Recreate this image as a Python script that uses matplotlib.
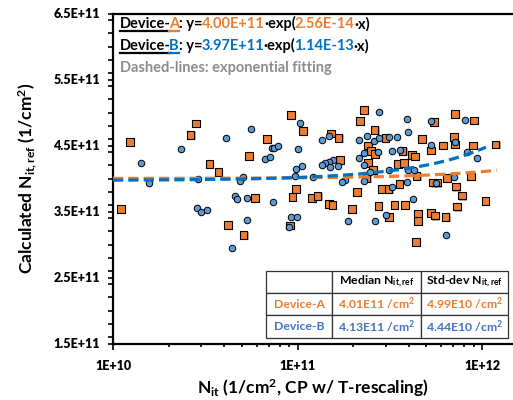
import numpy as np
import matplotlib
matplotlib.use("Agg")
import matplotlib.pyplot as plt
import matplotlib.transforms as mtransforms
import matplotlib.patheffects as pe
from matplotlib.ticker import MultipleLocator, NullFormatter

plt.rcParams['font.family'] = ['Lato', 'DejaVu Sans']
plt.rcParams['font.weight'] = 'bold'
plt.rcParams['mathtext.fontset'] = 'custom'
plt.rcParams['mathtext.rm'] = 'Lato:bold'
plt.rcParams['mathtext.it'] = 'Lato:bold'
plt.rcParams['mathtext.bf'] = 'Lato:bold'
plt.rcParams['mathtext.default'] = 'bf'

ORANGE = '#ED7D31'
BLUE_LINE = '#0070C0'
BLUE_FILL = '#5B9BD5'
BLUE_TAB = '#4472C4'

# Device-A (orange squares): log10(Nit), Nit_ref in 1E+11
a_logx = [10.042, 10.092, 10.451, 10.421, 10.522, 10.571, 10.622, 10.708, 10.737, 10.771,
          10.836, 10.965, 11.030, 10.993, 10.972, 10.958,
          11.182, 11.223, 11.360, 11.339, 11.418, 11.382, 11.400, 11.420, 11.476, 11.230,
          11.382, 11.409, 11.375, 11.570, 11.545, 11.576, 11.619, 11.638, 11.646, 11.675,
          11.740, 11.724, 11.790, 11.852, 11.848, 11.852, 11.958, 11.951, 12.074, 11.736,
          11.758, 11.810, 11.859, 11.890, 11.866, 11.939, 12.018, 11.458, 11.494, 11.552,
          11.324, 11.080, 11.109, 11.172, 11.189, 11.294, 11.438, 11.525, 11.583, 11.496,
          11.653, 11.653, 11.724, 11.745, 11.803, 11.643]
a_y = [3.54, 4.556, 4.834, 4.657, 4.219, 4.098, 3.298, 3.142, 4.34, 3.70,
       4.597, 4.959, 4.718, 3.841, 3.72, 3.287,
       4.683, 4.616, 5.035, 4.873, 4.737, 4.50, 4.42, 4.375, 4.616, 4.28,
       4.234, 4.128, 4.012, 4.42, 4.219, 4.234, 4.36, 4.335, 4.04, 4.597,
       4.858, 4.426, 4.50, 4.974, 4.63, 4.516, 4.879, 4.50, 4.516, 3.937,
       3.937, 4.012, 3.876, 3.74, 3.574, 4.03, 3.655, 3.837, 3.837, 3.917,
       3.796, 3.70, 3.736, 3.615, 3.60, 3.54, 3.58, 3.60, 3.60, 3.418,
       3.459, 3.358, 3.474, 3.438, 3.418, 3.04]

# Device-B (blue circles)
b_logx = [10.153, 10.197, 10.367, 10.459, 10.454, 10.475, 10.511, 10.611, 10.647, 10.660,
          10.670, 10.690, 10.705, 10.725, 10.725, 10.748, 10.825, 10.849, 10.862, 10.871,
          10.893, 10.869, 10.966, 10.997, 10.956, 10.985, 10.992, 11.024, 11.004, 11.012,
          11.442, 11.592, 11.722, 11.906, 11.599, 11.133, 11.171, 11.333, 11.377, 11.413,
          11.442, 11.498, 11.541, 11.360, 11.435, 11.512, 11.556, 11.722, 11.855, 11.919,
          11.971, 11.333, 11.191, 11.169, 11.151, 11.131, 11.176, 11.220, 11.362, 11.496,
          11.597, 11.633, 11.393, 11.082, 11.257, 11.241, 11.362, 11.512, 11.592, 11.751,
          11.848, 11.628, 11.478, 11.272, 11.420, 11.806]
b_y = [4.23, 3.927, 4.45, 3.988, 3.554, 3.49, 3.53, 4.607, 2.95, 3.73,
       3.69, 3.967, 4.027, 3.71, 3.369, 4.748, 4.29, 4.33, 4.46, 4.465,
       4.486, 3.65, 3.41, 3.41, 3.272, 4.04, 4.148, 4.19, 4.446, 4.834,
       5.005, 4.904, 4.864, 4.884, 4.702, 4.586, 4.647, 4.586, 4.647, 4.566,
       4.607, 4.627, 4.627, 4.39, 4.405, 4.41, 4.426, 4.506, 4.547, 4.405,
       4.31, 4.31, 4.284, 4.254, 4.229, 4.204, 4.169, 4.184, 4.204, 4.133,
       4.133, 4.133, 4.093, 4.023, 3.982, 3.952, 3.967, 3.872, 3.947, 3.927,
       4.023, 3.69, 3.449, 3.353, 3.353, 3.151]

# exponential fits y = a*exp(b*x)
fit_a = (4.00e11, 2.56e-14)
fit_b = (3.97e11, 1.14e-13)

yticks = [1.5e11, 2.5e11, 3.5e11, 4.5e11, 5.5e11, 6.5e11]
ytick_labels = ['1.5E+11', '2.5E+11', '3.5E+11', '4.5E+11', '5.5E+11', '6.5E+11']
xticks = [1e10, 1e11, 1e12]
xtick_labels = ['1E+10', '1E+11', '1E+12']

table_rows = ['Device-A', 'Device-B']
table_median = ['4.01E11 /cm$^2$', '4.13E11 /cm$^2$']
table_std = ['4.99E10 /cm$^2$', '4.44E10 /cm$^2$']

fig = plt.figure(figsize=(5.13, 4.0), dpi=100)
ax = fig.add_axes([113 / 513, 56.5 / 400, 400 / 513, 330 / 400])

ax.scatter(10 ** np.array(a_logx), np.array(a_y) * 1e11, marker='s', s=30,
           facecolor=ORANGE, edgecolor='black', linewidth=0.8, zorder=3,
           path_effects=[pe.SimplePatchShadow(offset=(0.8, -0.8), shadow_rgbFace='gray', alpha=0.6), pe.Normal()])
ax.scatter(10 ** np.array(b_logx), np.array(b_y) * 1e11, marker='o', s=22,
           facecolor=BLUE_FILL, edgecolor='black', linewidth=0.7, zorder=3)

xa = np.linspace(1e10, 1.2e12, 400)
ax.plot(xa, fit_a[0] * np.exp(fit_a[1] * xa), color=ORANGE, lw=2.3, dashes=(3.2, 1.6), zorder=4)
xb = np.linspace(1e10, 1.05e12, 400)
ax.plot(xb, fit_b[0] * np.exp(fit_b[1] * xb), color=BLUE_LINE, lw=2.3, dashes=(3.2, 1.6), zorder=4)

ax.set_xscale('log')
ax.set_xlim(1e10, 10 ** 12.168)
ax.set_ylim(1.5e11, 6.5e11)
ax.set_yticks(yticks, ytick_labels, fontweight='heavy', fontsize=9)
ax.yaxis.set_minor_locator(MultipleLocator(2e10))
ax.set_xticks(xticks, xtick_labels, fontweight='heavy', fontsize=9)
ax.xaxis.set_minor_formatter(NullFormatter())
ax.tick_params(axis='both', which='both', direction='out', width=1.2, color='black')
ax.tick_params(axis='y', which='both', length=3.5, pad=6)
ax.tick_params(axis='x', which='major', length=4, pad=8)
ax.tick_params(axis='x', which='minor', length=2.5)
for sp in ['left', 'bottom', 'top']:
    ax.spines[sp].set_linewidth(1.6)
ax.spines['right'].set_visible(False)

ax.set_xlabel('N$_{it}$ (1/cm$^2$, CP w/ T-rescaling)', fontsize=12.5, fontweight='bold', labelpad=4)
ax.set_ylabel('Calculated N$_{it,ref}$ (1/cm$^2$)', fontsize=12.5, fontweight='bold', labelpad=10)

# table in the lower right
cells = [['', 'Median N$_{it,ref}$', 'Std-dev N$_{it,ref}$'],
         [table_rows[0], table_median[0], table_std[0]],
         [table_rows[1], table_median[1], table_std[1]]]
tab = ax.table(cellText=cells, bbox=[0.383, 0.018, 0.605, 0.203],
               colWidths=[0.273, 0.368, 0.36], cellLoc='center', zorder=5)
tab.auto_set_font_size(False)
row_colors = ['black', ORANGE, BLUE_TAB]
for (r, c), cell in tab.get_celld().items():
    cell.set_facecolor('white')
    cell.set_edgecolor('#333333')
    cell.set_linewidth(0.9)
    cell.get_text().set_fontsize(8.8)
    cell.get_text().set_fontweight('bold')
    cell.get_text().set_color(row_colors[r])

# coloured legend text at top left
fig.canvas.draw()
renderer = fig.canvas.get_renderer()


def colored_line(x, y, parts, size):
    t = ax.transAxes
    boxes = []
    for s, col, adj in parts:
        if adj:
            t = mtransforms.offset_copy(t, x=adj, units='dots', fig=fig)
        txt = ax.text(x, y, s, color=col, transform=t, fontsize=size, fontweight='bold',
                      va='baseline', ha='left', zorder=6)
        txt.draw(renderer)
        ex = txt.get_window_extent(renderer)
        boxes.append(ex)
        t = mtransforms.offset_copy(txt.get_transform(), x=ex.width, units='dots', fig=fig)
    return boxes


def underline(box, col, y_disp):
    inv = fig.transFigure.inverted()
    p0 = inv.transform((box.x0, y_disp))
    p1 = inv.transform((box.x1, y_disp))
    fig.add_artist(plt.Line2D([p0[0], p1[0]], [p0[1], p1[1]], color=col, lw=1.6))


for yy, dev, ca, cb in [(0.955, 'A', '4.00E+11', '2.56E-14'), (0.888, 'B', '3.97E+11', '1.14E-13')]:
    col = ORANGE if dev == 'A' else BLUE_LINE
    bx = colored_line(0.018, yy, [('Device-', 'black', 0), (dev, col, -2), (': y=', 'black', 0),
                                  (ca, col, -1), ('\u00b7exp(', 'black', 0), (cb, col, -2),
                                  ('\u00b7x)', 'black', 0)], 10.5)
    base = ax.transAxes.transform((0, yy))[1] - 3
    underline(bx[0], 'black', base)
    underline(bx[1], col, base)

colored_line(0.018, 0.822, [('Dashed-lines: exponential fitting', '#8C8C8C', 0)], 10.5)

fig.savefig('out.png', dpi=100)
